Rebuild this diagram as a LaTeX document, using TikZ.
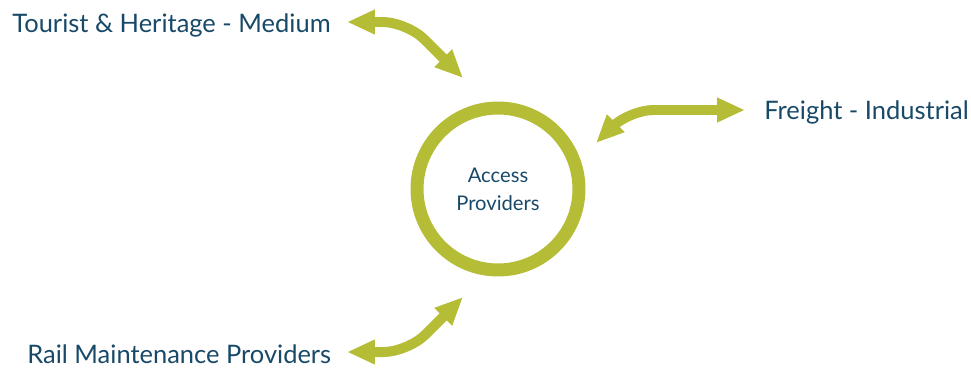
\documentclass[tikz,border=0pt]{standalone}
\usepackage{fontspec}
\setmainfont{Lato}
\usetikzlibrary{arrows.meta}

\definecolor{railgreen}{RGB}{180,189,53}
\definecolor{railblue}{RGB}{24,73,104}

\tikzset{
	label/.style={text=railblue, font=\fontsize{14.5}{16}\selectfont, inner sep=0pt, anchor=west},
	link/.style={railgreen, line width=0.2cm, rounded corners=14pt,
		{Triangle[length=0.56cm,width=0.46cm]}-{Triangle[length=0.56cm,width=0.46cm]}},
}

\begin{document}
\begin{tikzpicture}[x=0.02cm,y=-0.02cm]
			
			\useasboundingbox (0,0) rectangle (971,372);
			
			% hub
			\node[draw=railgreen, line width=0.26cm, circle, minimum size=3.24cm, text=railblue,
				align=center, font=\fontsize{11.5}{16}\selectfont] (Access) at (498,189) {Access\\Providers};
			
			% groups
			\node[label] (Tourist) at (12,25) {Tourist \& Heritage - Medium};
			\node[label] (Freight) at (764,112) {Freight - Industrial};
			\node[label] (Rail) at (27,354) {Rail Maintenance Providers};
			
			% arrow ends
			\coordinate (T1) at (347,22);
			\coordinate (T2) at (463,78);
			\coordinate (F1) at (745,110);
			\coordinate (F2) at (596,143);
			\coordinate (R1) at (347,352);
			\coordinate (R2) at (463,297);
			
			\draw[link] (T1) -- (407,22) -- (T2);
			\draw[link] (F2) -- (629,110) -- (F1);
			\draw[link] (R1) -- (408,352) -- (R2);
			
		\end{tikzpicture}
\end{document}
